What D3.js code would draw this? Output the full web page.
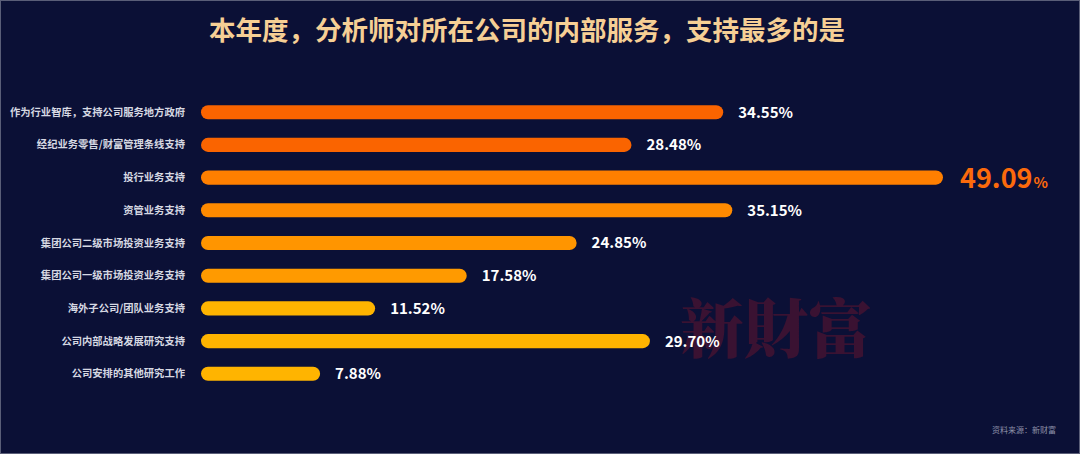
<!DOCTYPE html>
<html>
<head>
<meta charset="utf-8">
<script src="https://cdn.jsdelivr.net/npm/d3@7"></script>
<style>
  html, body { margin: 0; padding: 0; background: #0b1036; }
  svg { display: block; }
</style>
</head>
<body>
<div id="chart"></div>
<script>
// Horizontal rounded bar chart, dark navy background
const categories = [
    '作为行业智库，支持公司服务地方政府',
    '经纪业务零售/财富管理条线支持',
    '投行业务支持',
    '资管业务支持',
    '集团公司二级市场投资业务支持',
    '集团公司一级市场投资业务支持',
    '海外子公司/团队业务支持',
    '公司内部战略发展研究支持',
    '公司安排的其他研究工作'
];
const values = [34.55, 28.48, 49.09, 35.15, 24.85, 17.58, 11.52, 29.70, 7.88];
const barColors = ['#fa6400', '#fa6400', '#ff7f00', '#ff8a00', '#ff9500', '#ff9a00', '#ffb400', '#ffb400', '#ffb400'];

const TITLE = '本年度，分析师对所在公司的内部服务，支持最多的是';
const SOURCE = '资料来源：新财富';
const WATERMARK = '新財富';

const width = 1080, height = 454;
const FONT = '"Noto Sans CJK SC", "Noto Sans", sans-serif';

const svg = d3.select('#chart').append('svg')
    .attr('width', width)
    .attr('height', height);

svg.append('rect')
    .attr('x', 0.5).attr('y', 0.5)
    .attr('width', width - 1).attr('height', height - 1)
    .attr('fill', '#0b1036')
    .attr('stroke', '#5a5e78')
    .attr('stroke-width', 1);

// Watermark (sits behind the bars and labels)
svg.append('text')
    .attr('x', 776).attr('y', 352)
    .attr('text-anchor', 'middle')
    .attr('fill', '#3a1232')
    .attr('font-family', '"Noto Serif CJK TC", "Noto Sans CJK TC", serif')
    .attr('font-weight', 900)
    .attr('font-size', '64px')
    .text(WATERMARK);

// Title
svg.append('text')
    .attr('x', 527).attr('y', 40)
    .attr('text-anchor', 'middle')
    .attr('fill', '#f6cf95')
    .attr('font-family', FONT)
    .attr('font-weight', 700)
    .attr('font-size', '26.5px')
    .text(TITLE);

const x0 = 201;
const x = d3.scaleLinear().domain([0, 49.09]).range([x0, 943]);
const y = d3.scaleBand().domain(categories).range([96, 390]).paddingInner(0.57).paddingOuter(0.28);

const rows = svg.append('g').selectAll('g')
    .data(categories.map((c, i) => ({ c, v: values[i], color: barColors[i] })))
    .join('g');

rows.append('rect')
    .attr('x', x0)
    .attr('y', d => y(d.c))
    .attr('width', d => x(d.v) - x0)
    .attr('height', y.bandwidth())
    .attr('rx', y.bandwidth() / 2)
    .attr('fill', d => d.color);

rows.append('text')
    .attr('x', x0 - 16)
    .attr('y', d => y(d.c) + y.bandwidth() / 2)
    .attr('dy', '0.35em')
    .attr('text-anchor', 'end')
    .attr('fill', '#d6d8e2')
    .attr('font-family', FONT)
    .attr('font-weight', 700)
    .attr('font-size', '10.3px')
    .text(d => d.c);

const maxV = d3.max(values);
rows.each(function (d) {
    const g = d3.select(this);
    const cy = y(d.c) + y.bandwidth() / 2;
    if (d.v === maxV) {
        const t = g.append('text')
            .attr('x', x(d.v) + 17)
            .attr('y', cy + 10)
            .attr('fill', '#fb6a0c')
            .attr('font-family', FONT)
            .attr('font-weight', 700)
            .attr('font-size', '27px');
        t.append('tspan').text(d.v.toFixed(2));
        t.append('tspan').attr('font-size', '15px').attr('dx', 1).text('%');
    } else {
        g.append('text')
            .attr('x', x(d.v) + 15)
            .attr('y', cy)
            .attr('dy', '0.36em')
            .attr('fill', '#ffffff')
            .attr('font-family', FONT)
            .attr('font-weight', 700)
            .attr('font-size', '15px')
            .text(d.v.toFixed(2) + '%');
    }
});

// Source note
svg.append('text')
    .attr('x', 1056).attr('y', 433)
    .attr('text-anchor', 'end')
    .attr('fill', '#8e91a8')
    .attr('font-family', FONT)
    .attr('font-size', '8px')
    .text(SOURCE);
</script>
</body>
</html>
